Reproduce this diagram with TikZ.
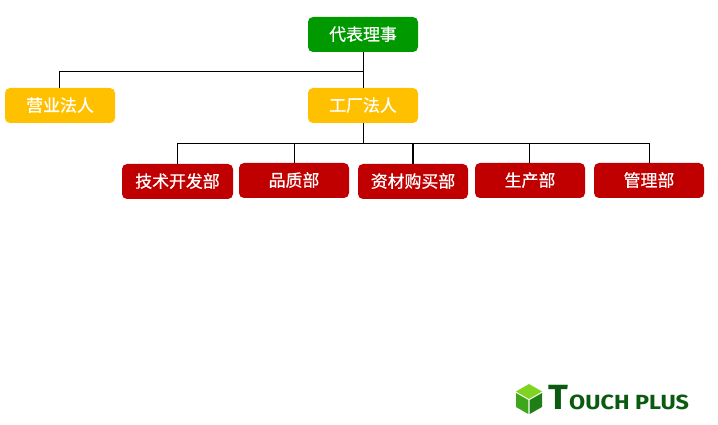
\documentclass[tikz,border=0pt]{standalone}
\usepackage{fontspec}
\setmainfont{Liberation Sans}
\newfontfamily\cjkfont[FakeBold=0.6]{Noto Sans CJK SC}
\newfontfamily\logofont{Fira Sans}
\definecolor{boxgreen}{HTML}{009900}
\definecolor{boxamber}{HTML}{FFC000}
\definecolor{boxred}{HTML}{C00000}
\definecolor{logogreen}{HTML}{0B5A12}
\definecolor{cubetop}{HTML}{7FD321}
\definecolor{cubeleft}{HTML}{3FA51A}
\definecolor{cuberight}{HTML}{1F7F14}
\tikzset{
  x=1pt,y=-1pt,
  orgbox/.style={rounded corners=5pt,minimum width=110pt,minimum height=35pt,inner sep=0pt,
    text=white,text height=14pt,text depth=2pt,font=\cjkfont\fontsize{16.9}{18}\selectfont},
  headbox/.style={orgbox,fill=boxgreen},
  corpbox/.style={orgbox,fill=boxamber},
  deptbox/.style={orgbox,fill=boxred},
  wire/.style={draw=black,line width=1pt},
  thickwire/.style={draw=black,line width=1.6pt},
  logotext/.style={inner sep=0pt,text=logogreen,anchor=base west}
}
\begin{document}
\begin{tikzpicture}
\useasboundingbox (0,0) rectangle (718,425);
\node[headbox] (head) at (363,34.5) {代表理事};
\node[corpbox] (sales) at (60,105.5) {营业法人};
\node[corpbox] (factory) at (363,105.5) {工厂法人};
\node[deptbox,minimum width=111pt] (tech) at (177.5,181.5) {技术开发部};
\node[deptbox] (quality) at (294,180.5) {品质部};
\node[deptbox] (material) at (413,181.5) {资材购买部};
\node[deptbox] (production) at (530,180.5) {生产部};
\node[deptbox] (admin) at (649,180.5) {管理部};
\coordinate (busA) at (363.5,71.5);
\coordinate (busB) at (363.5,143.5);
\draw[wire] ([xshift=.5pt]head.south) -- ([xshift=.5pt]factory.north);
\draw[wire] (busA) -| ([xshift=-.7pt]sales.north);
\draw[wire] ([xshift=.5pt]factory.south) -- (busB);
\draw[wire] (tech.north) |- (busB);
\draw[wire] (admin.north) |- (busB);
\draw[wire] (quality.north) -- (quality.north |- busB);
\draw[thickwire] (material.north) -- (material.north |- busB);
\draw[wire] ([xshift=-.7pt]production.north) -- ([xshift=-.7pt]production.north |- busB);
% logo
\fill[cubetop] (529,384) -- (542,391.5) -- (529,399) -- (516,391.5) -- cycle;
\fill[cubeleft] (516,393) -- (528.3,400) -- (528.3,414) -- (516,407) -- cycle;
\fill[cuberight] (542,393) -- (529.7,400) -- (529.7,414) -- (542,407) -- cycle;
\node[logotext,xscale=1.05,font=\logofont\bfseries\fontsize{35}{35}\selectfont] (logoT) at (548.5,409) {T};
\node[logotext,xscale=1.14,font=\logofont\bfseries\fontsize{20.5}{21}\selectfont] (logoWord) at (569,409) {OUCH PLUS};
\end{tikzpicture}
\end{document}
